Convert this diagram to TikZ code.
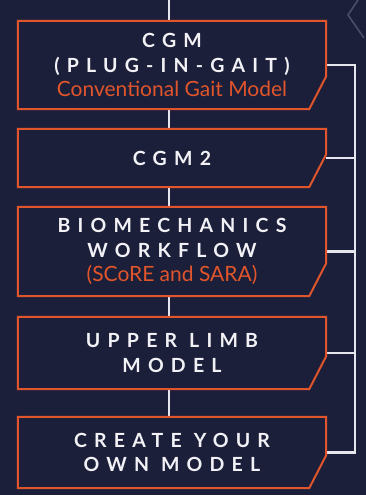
\documentclass[tikz,border=0pt]{standalone}
\usepackage{fontspec}
\setmainfont{Lato}
\newfontfamily\ttlfont{Lato}[LetterSpace=37]
\definecolor{bgc}{HTML}{1C1F3A}
\definecolor{orng}{HTML}{E0552B}
\definecolor{lnc}{HTML}{E6E6EE}
\definecolor{txc}{HTML}{F2F2F6}
\definecolor{chev}{HTML}{4A4D66}
\tikzset{
  box/.style={rectangle, draw=none, fill=bgc, minimum width=308pt, inner sep=0pt,
    align=center, text=txc, font=\ttlfont\bfseries\fontsize{19.5}{24.5}\selectfont},
  boxline/.style={draw=orng, line width=2pt, line join=miter},
  wire/.style={draw=lnc, line width=2.2pt}
}
\newcommand{\subtxt}[1]{{\color{orng}\normalfont\fontsize{21}{24.5}\selectfont #1}}
\begin{document}
\begin{tikzpicture}[x=1pt,y=-1pt]
\useasboundingbox (0,0) rectangle (366,495);
\fill[bgc] (0,0) rectangle (366,495);
% faint chevron
\draw[chev, line width=1.6pt] (358,0) -- (348,15) -- (364,38);
\coordinate (top) at (169,0);
\coordinate (brk) at (355,0);
\node[box, minimum height=88pt] (b1) at (172,65) {CGM\\(PLUG-IN-GAIT)\\\subtxt{Conventional Gait Model}};
\node[box, minimum height=58pt] (b2) at (172,158) {CGM2};
\node[box, minimum height=89pt] (b3) at (172,251.5) {BIOMECHANICS\\WORKFLOW\\\subtxt{(SCoRE and SARA)}};
\node[box, minimum height=72pt] (b4) at (172,353) {UPPER LIMB\\MODEL};
\node[box, minimum height=71pt] (b5) at (172,452.5) {CREATE YOUR\\OWN MODEL};
% center spine
\draw[wire] (top) -- ([xshift=-3pt]b1.north);
\foreach \a/\b in {b1/b2,b2/b3,b3/b4,b4/b5}
  \draw[wire] ([xshift=-3pt]\a.south) -- ([xshift=-3pt]\b.north);
% right bracket
\foreach \n in {b1,b2,b3,b4,b5}
  \draw[wire] (\n.east) -- (\n.east -| brk);
\draw[wire, line cap=rect] (b1.east -| brk) -- (b5.east -| brk);
% box outlines with cut corner
\foreach \n in {b1,b2,b3,b4,b5}
  \draw[boxline] (\n.north west) -- (\n.north east) -- ([yshift=33pt]\n.south east)
     -- ([xshift=-17pt]\n.south east) -- (\n.south west) -- cycle;
\end{tikzpicture}
\end{document}
